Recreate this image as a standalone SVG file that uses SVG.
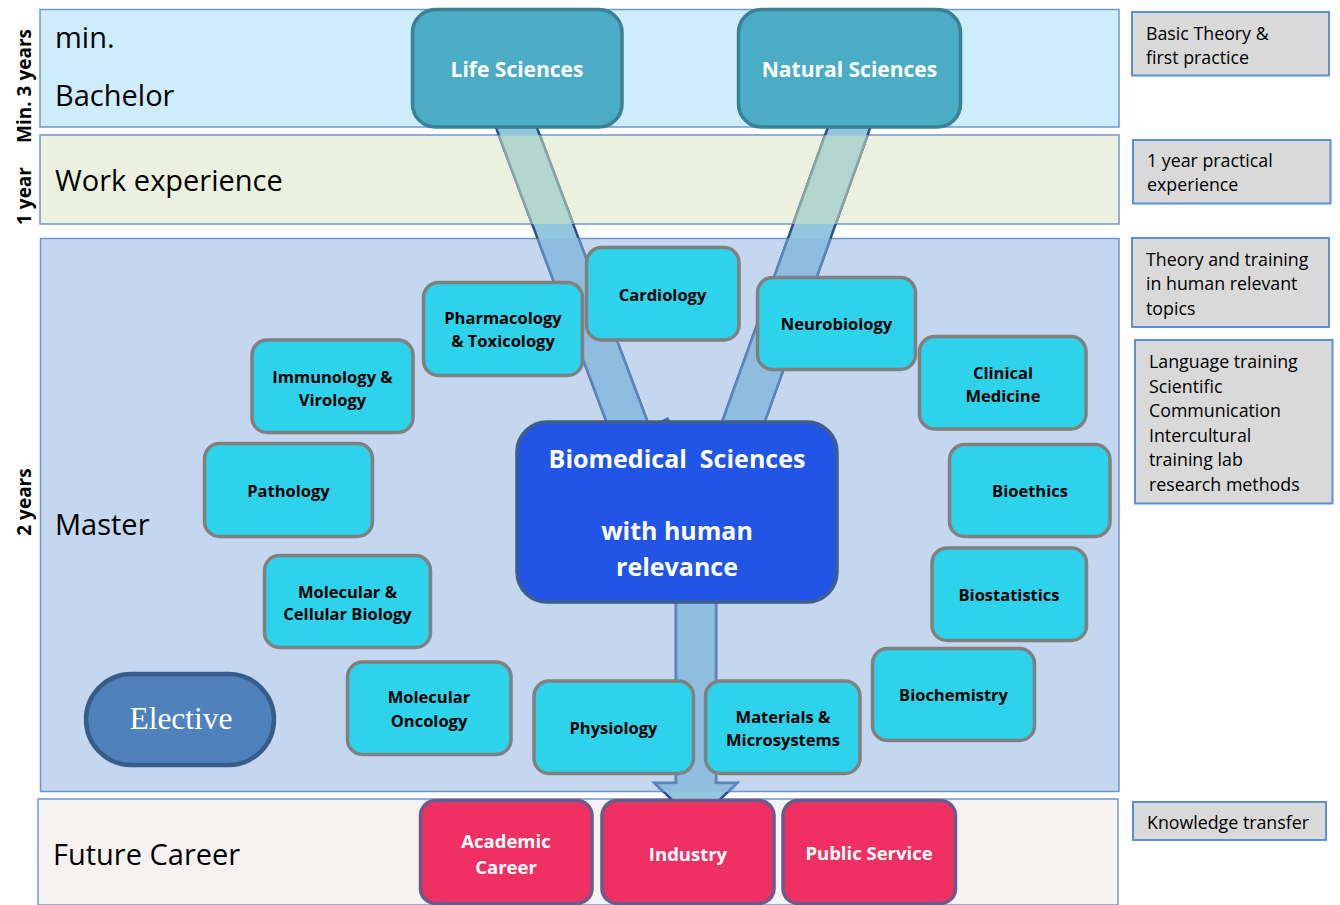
<svg xmlns="http://www.w3.org/2000/svg" width="1340" height="905" viewBox="0 0 1340 905">
<style>
.band{stroke:#7195cd;stroke-width:1.5}
.lbl{font-family:"Open Sans","Noto Sans",sans-serif;font-size:29px;fill:#000}
.yr{font-family:"Open Sans","Noto Sans",sans-serif;font-weight:bold;font-size:19px;text-anchor:middle;fill:#000}
.side rect{fill:#d9d9d9;stroke:#5b8fd6;stroke-width:2}
.side text{font-family:"Open Sans","Noto Sans",sans-serif;font-size:17.8px;fill:#000}
.src rect{fill:#4bacc6;stroke:#3a8197;stroke-width:3.5}
.src text{font-family:"Open Sans","Noto Sans",sans-serif;font-weight:bold;font-size:21px;fill:#fff;text-anchor:middle}
.topic rect{fill:#2dd3ea;stroke:#808080;stroke-width:3.5}
.topic text{font-family:"Open Sans","Noto Sans",sans-serif;font-weight:bold;font-size:16.5px;fill:#000;text-anchor:middle}
.career rect{fill:#f03062;stroke:#6b5b8b;stroke-width:3.5}
.career text{font-family:"Open Sans","Noto Sans",sans-serif;font-weight:bold;font-size:18.5px;fill:#fff;text-anchor:middle}
.main text{font-family:"Open Sans","Noto Sans",sans-serif;font-weight:bold;font-size:25px;fill:#fff;text-anchor:middle;white-space:pre}
.shaft{fill:#91c6dd;stroke:#2c4f8f;stroke-width:2.5}
.shaftW{fill:#b3d7cf;stroke:#8aa3a6;stroke-width:2.5}
.shaftM{fill:#8fbde0;stroke:#5b85bb;stroke-width:2.5}
</style>
<defs>
<clipPath id="cw"><rect x="0" y="135.5" width="1120" height="88.5"/></clipPath>
<clipPath id="cm"><rect x="0" y="238.5" width="1120" height="553"/></clipPath>
<path id="sL" d="M495.7,127 L536.7,127 L647.6,422 L606.6,422 Z"/>
<path id="sR" d="M828,127 L870.5,127 L764.6,422 L722.1,422 Z"/>
<path id="sD" d="M676,600 L716,600 L716,783 L737,783 L696,823 L654.5,783 L676,783 Z"/>
</defs>
<rect width="1340" height="905" fill="#fff"/>

<g id="bands">
<rect class="band" x="40" y="9.5" width="1079" height="117.5" fill="#cdedfc"/>
<rect class="band" x="40" y="135" width="1079" height="89" fill="#ebf1de"/>
<rect class="band" x="40.5" y="238.5" width="1078.5" height="553" fill="#c4d7ef"/>
<rect class="band" x="38" y="799" width="1080" height="106" fill="#f7f2f2"/>
<text class="lbl" x="55" y="48">min.</text>
<text class="lbl" x="55" y="106">Bachelor</text>
<text class="lbl" x="55" y="191">Work experience</text>
<text class="lbl" x="55" y="535">Master</text>
<text class="lbl" x="53" y="865">Future Career</text>
<text class="yr" transform="translate(31,86) rotate(-90)">Min. 3 years</text>
<text class="yr" transform="translate(31,196) rotate(-90)">1 year</text>
<text class="yr" transform="translate(31,502) rotate(-90)">2 years</text>
</g>

<g id="side-notes" class="side">
<g id="note-bachelor"><rect x="1132" y="12" width="197" height="63.5"/><text x="1146" y="39.5">Basic Theory &amp;</text><text x="1146" y="63.5">first practice</text></g>
<g id="note-work"><rect x="1133" y="140" width="197.5" height="63.5"/><text x="1147" y="167">1 year practical</text><text x="1147" y="191">experience</text></g>
<g id="note-master1"><rect x="1132" y="238" width="197" height="89"/><text x="1146" y="265.5">Theory and training</text><text x="1146" y="290">in human relevant</text><text x="1146" y="314.5">topics</text></g>
<g id="note-master2"><rect x="1135" y="340" width="197.5" height="163.5"/><text x="1149" y="368">Language training</text><text x="1149" y="392.5">Scientific</text><text x="1149" y="417">Communication</text><text x="1149" y="441.5">Intercultural</text><text x="1149" y="466">training lab</text><text x="1149" y="490.5">research methods</text></g>
<g id="note-career"><rect x="1133" y="802" width="193" height="38"/><text x="1147" y="829">Knowledge transfer</text></g>
</g>

<g id="connectors">
<use href="#sL" class="shaft"/>
<use href="#sL" class="shaftW" clip-path="url(#cw)"/>
<use href="#sL" class="shaftM" clip-path="url(#cm)"/>
<use href="#sR" class="shaft"/>
<use href="#sR" class="shaftW" clip-path="url(#cw)"/>
<use href="#sR" class="shaftM" clip-path="url(#cm)"/>
<use href="#sD" class="shaft"/>
<use href="#sD" class="shaftM" clip-path="url(#cm)"/>
<path d="M654,424 L668,417 L672,424 Z" fill="#4a6fa8"/>
</g>

<g id="life-sciences" class="src"><rect x="412.5" y="9.5" width="209.5" height="117.5" rx="23"/><text x="517" y="77">Life Sciences</text></g>
<g id="natural-sciences" class="src"><rect x="738.5" y="9.5" width="222" height="117.5" rx="23"/><text x="849.5" y="77">Natural Sciences</text></g>

<g id="biomedical" class="main"><rect x="517" y="422" width="320" height="180" rx="30" fill="#2055e8" stroke="#3e5f8e" stroke-width="3.5"/>
<text x="677" y="468" xml:space="preserve">Biomedical  Sciences</text><text x="677" y="540">with human</text><text x="677" y="576">relevance</text></g>

<g id="cardiology" class="topic"><rect x="586.5" y="247.5" width="152.5" height="92.5" rx="15"/><text x="662.5" y="301">Cardiology</text></g>
<g id="pharmacology" class="topic"><rect x="423.5" y="282.5" width="159" height="93" rx="15"/><text x="503" y="324">Pharmacology</text><text x="503" y="347">&amp; Toxicology</text></g>
<g id="neurobiology" class="topic"><rect x="757.5" y="277.5" width="158" height="92" rx="15"/><text x="836.5" y="330">Neurobiology</text></g>
<g id="immunology" class="topic"><rect x="252" y="340" width="161" height="92.5" rx="15"/><text x="332.5" y="382.5">Immunology &amp;</text><text x="332.5" y="405.5">Virology</text></g>
<g id="clinical-medicine" class="topic"><rect x="919.5" y="336.5" width="166.5" height="92.5" rx="15"/><text x="1003" y="378.5">Clinical</text><text x="1003" y="401.5">Medicine</text></g>
<g id="pathology" class="topic"><rect x="204.5" y="443.5" width="168" height="93" rx="15"/><text x="288.5" y="497">Pathology</text></g>
<g id="bioethics" class="topic"><rect x="949.5" y="444.5" width="160.5" height="92" rx="15"/><text x="1030" y="497">Bioethics</text></g>
<g id="molecular-cellular" class="topic"><rect x="264.5" y="555.5" width="166" height="92" rx="15"/><text x="347.5" y="597.5">Molecular &amp;</text><text x="347.5" y="620">Cellular Biology</text></g>
<g id="biostatistics" class="topic"><rect x="932" y="548" width="154.5" height="92.5" rx="15"/><text x="1009" y="601">Biostatistics</text></g>
<g id="biochemistry" class="topic"><rect x="872.5" y="648.5" width="162" height="92" rx="15"/><text x="953.5" y="701">Biochemistry</text></g>
<g id="molecular-oncology" class="topic"><rect x="347.5" y="662" width="163.5" height="92.5" rx="15"/><text x="429" y="703">Molecular</text><text x="429" y="727">Oncology</text></g>
<g id="physiology" class="topic"><rect x="534" y="681" width="159.5" height="92.5" rx="15"/><text x="613.5" y="734">Physiology</text></g>
<g id="materials" class="topic"><rect x="705.5" y="681" width="154.5" height="92.5" rx="15"/><text x="783" y="723">Materials &amp;</text><text x="783" y="746">Microsystems</text></g>

<g id="elective"><rect x="86" y="674" width="188" height="91" rx="45.5" fill="#4f81bd" stroke="#385d8a" stroke-width="4.5"/><text x="181" y="729" font-family="'Liberation Serif','Times New Roman',serif" font-size="31.5" fill="#fff" text-anchor="middle">Elective</text></g>

<g id="academic-career" class="career"><rect x="420.5" y="800.5" width="171.5" height="103" rx="15"/><text x="506" y="847.5">Academic</text><text x="506" y="874">Career</text></g>
<g id="industry" class="career"><rect x="602" y="800.5" width="172" height="103" rx="15"/><text x="688" y="861">Industry</text></g>
<g id="public-service" class="career"><rect x="783" y="800.5" width="172.5" height="103" rx="15"/><text x="869" y="860">Public Service</text></g>
</svg>
